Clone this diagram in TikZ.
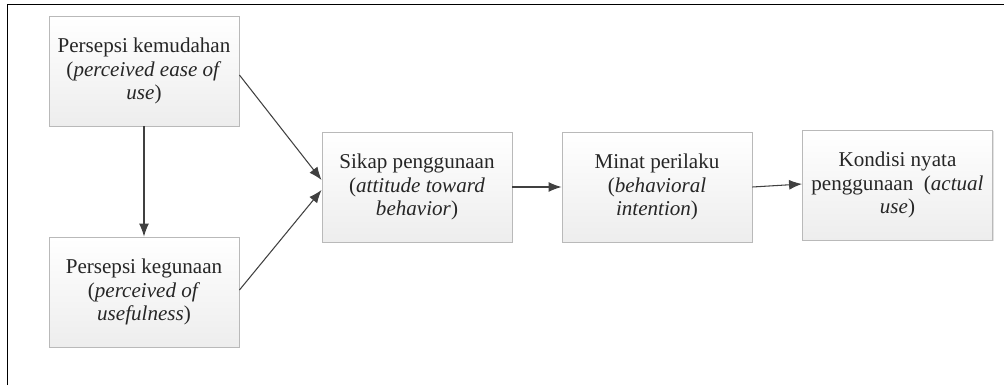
\documentclass[tikz,border=0pt]{standalone}
\usepackage{fontspec}
\setmainfont{Liberation Serif}
\usetikzlibrary{arrows.meta,shadows}

\begin{document}
\begin{tikzpicture}[
    construct/.style={draw=gray!55, line width=0.5pt, rectangle, minimum width=3.8cm, minimum height=2.2cm,
        top color=white, bottom color=gray!14, align=center, text=black!85,
        font=\fontsize{12}{13.4}\selectfont,
        drop shadow={shadow xshift=0.6pt, shadow yshift=-0.8pt, fill=gray!45}},
    rel/.style={-{Latex[length=2.6mm,width=2mm]}, draw=black!75, line width=0.6pt}
]
\useasboundingbox (0,0) rectangle (20.08,-7.70);

% Frame
\draw[line width=1.1pt] (0.15,-7.70) -- (0.15,-0.09) -- (20.08,-0.09);

% Constructs
\node[construct] (peou) at (2.88,-1.42) {Persepsi kemudahan\\(\textit{perceived ease of}\\\textit{use})};
\node[construct] (pu) at (2.88,-5.84) {Persepsi kegunaan\\(\textit{perceived of}\\\textit{usefulness})};
\node[construct] (sikap) at (8.34,-3.74) {Sikap penggunaan\\(\textit{attitude toward}\\\textit{behavior})};
\node[construct] (minat) at (13.14,-3.74) {Minat perilaku\\(\textit{behavioral}\\\textit{intention})};
\node[construct] (kondisi) at (17.95,-3.70) {Kondisi nyata\\penggunaan\ \ (\textit{actual}\\\textit{use})};

% Relations
\draw[rel] (peou.south) -- (pu.north);
\draw[rel] ([yshift=-0.08cm]peou.east) -- ([yshift=0.14cm]sikap.west);
\draw[rel] ([yshift=0.04cm]pu.east) -- ([yshift=-0.06cm]sikap.west);
\draw[rel] (sikap.east) -- (minat.west);
\draw[rel] (minat.east) -- ([yshift=0.02cm]kondisi.west);

\end{tikzpicture}
\end{document}
